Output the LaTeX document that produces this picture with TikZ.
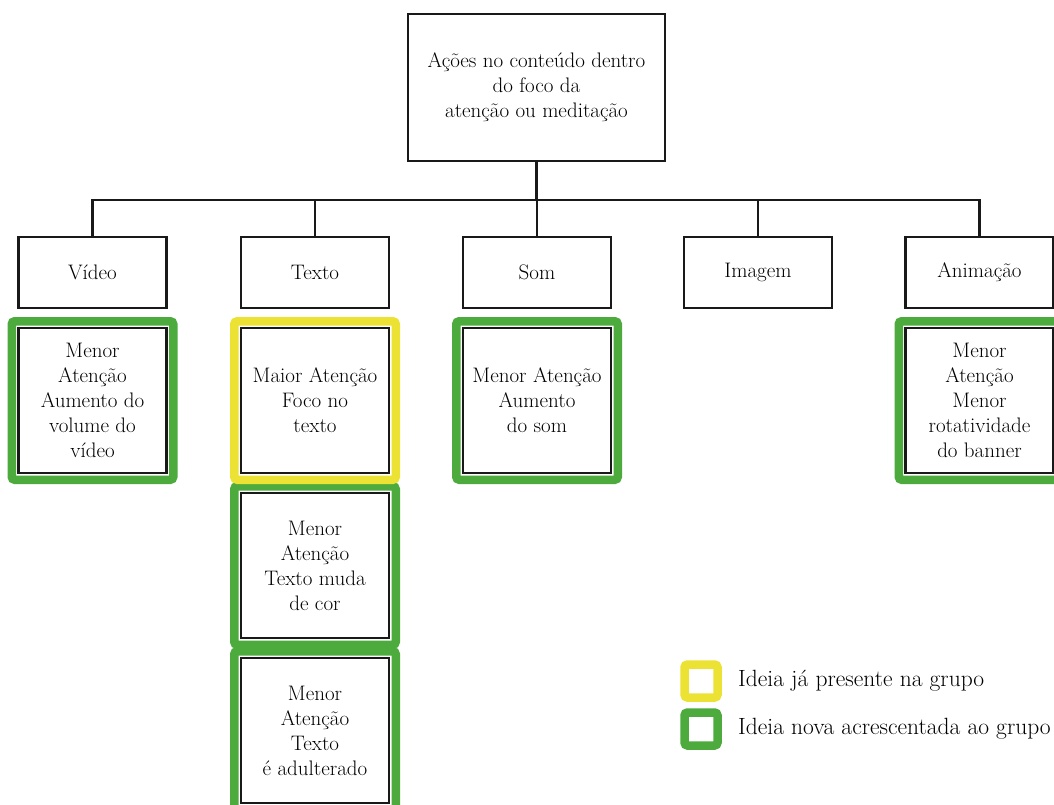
\documentclass[tikz,border=0pt]{standalone}
\usepackage{fontspec}
\usetikzlibrary{backgrounds}
\definecolor{ideagreen}{RGB}{77,171,62}
\definecolor{ideayellow}{RGB}{236,226,52}
\begin{document}
\begin{tikzpicture}[x=1pt,y=-1pt,
  box/.style={draw=black!90, line width=2.5pt, fill=white, align=center,
    inner sep=0pt, font=\fontsize{21}{25}\selectfont},
  cat/.style={box, minimum width=148pt, minimum height=71pt},
  idea/.style={box, minimum width=148pt, minimum height=145pt},
  conn/.style={draw=black!90, line width=2.5pt},
  frame/.style={line width=8.5pt, rounded corners=3pt},
  legendtext/.style={anchor=west, inner sep=0pt, font=\fontsize{23.5}{25}\selectfont}]
\useasboundingbox (0,0) rectangle (1054,805);

% root
\node[box, minimum width=257pt, minimum height=147pt] (root) at (536.5,87.5)
  {Ações no conteúdo dentro\\do foco da\\atenção ou meditação};

% categories
\node[cat] (video) at (92.5,272.5) {Vídeo};
\node[cat] (texto) at (315,272.5) {Texto};
\node[cat] (som)   at (537,272.5) {Som};
\node[cat] (imagem) at (758,272.5) {Imagem};
\node[cat] (anim)  at (979.5,272.5) {Animação};

% ideas
\node[idea] (v1) at (92.5,400.5) {Menor\\Atenção\\Aumento do\\volume do\\vídeo};
\node[idea] (t1) at (315,400.5) {Maior Atenção\\Foco no\\texto};
\node[idea] (t2) at (315,565.5) {Menor\\Atenção\\Texto muda\\de cor};
\node[idea] (t3) at (315,730.5) {Menor\\Atenção\\Texto\\é adulterado};
\node[idea] (s1) at (537,400.5) {Menor Atenção\\Aumento\\do som};
\node[idea] (a1) at (979.5,400.5) {Menor\\Atenção\\Menor\\rotatividade\\do banner};

% connectors
\coordinate (bus) at (536.5,200);
\draw[conn] (root.south) -- (bus);
\draw[conn] (video.north) |- (bus) -| (anim.north);
\draw[conn] (texto.north) -- (texto.north |- bus);
\draw[conn] (som.north) -- (som.north |- bus);
\draw[conn] (imagem.north) -- (imagem.north |- bus);

% coloured frames behind the idea boxes
\begin{scope}[on background layer]
  \foreach \n in {v1,t2,t3,s1,a1}
    \draw[frame, ideagreen] ([shift={(-5.5,-5.5)}]\n.north west) rectangle ([shift={(5.5,5.5)}]\n.south east);
  \draw[frame, ideayellow] ([shift={(-5.5,-5.5)}]t1.north west) rectangle ([shift={(5.5,5.5)}]t1.south east);
\end{scope}

% legend
\draw[frame, ideayellow, fill=white] (684.5,664.5) rectangle (717.5,697.5);
\draw[frame, ideagreen, fill=white] (684.5,712.5) rectangle (717.5,745.5);
\node[legendtext] (lytext) at (738,681) {Ideia já presente na grupo};
\node[legendtext] (lgtext) at (738,729) {Ideia nova acrescentada ao grupo};
\end{tikzpicture}
\end{document}
